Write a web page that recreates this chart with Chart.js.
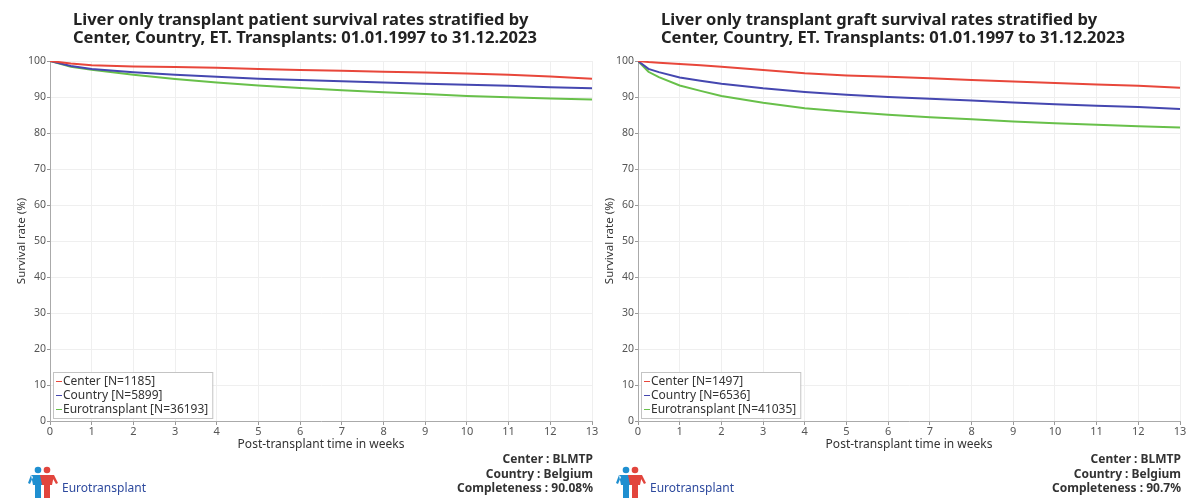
<!DOCTYPE html>
<html>
<head>
<meta charset="utf-8">
<script src="https://cdn.jsdelivr.net/npm/chart.js@4"></script>
<style>
  body { margin: 0; background: #fff; width: 1186px; height: 498px; overflow: hidden; font-family: "Noto Sans", sans-serif; }
  .panel { position: absolute; top: 0; width: 598px; height: 498px; }
  .panel canvas { position: absolute; left: 0; top: 0; }
  .title { position: absolute; left: 73px; top: 10px; font-weight: bold; font-size: 16.5px; line-height: 17.5px; color: #222; white-space: nowrap; }
  .meta { position: absolute; right: 5px; top: 452px; text-align: right; font-weight: bold; font-size: 12px; line-height: 14.5px; color: #333; white-space: nowrap; }
  .logo { position: absolute; left: 28px; top: 466px; width: 32px; height: 32px; }
  .brand { position: absolute; left: 62px; top: 479px; font-size: 12px; color: #2e4a9e; }
</style>
</head>
<body>

<div class="panel" style="left:0">
  <canvas id="patientChart" width="598" height="498"></canvas>
  <div class="title">Liver only transplant patient survival rates stratified by<br>Center, Country, ET. Transplants: 01.01.1997 to 31.12.2023</div>
  <div class="meta">Center : BLMTP<br>Country : Belgium<br>Completeness : 90.08%</div>
  <svg class="logo" viewBox="0 0 32 32"><use href="#people"/></svg>
  <div class="brand">Eurotransplant</div>
</div>

<div class="panel" style="left:588px">
  <canvas id="graftChart" width="598" height="498"></canvas>
  <div class="title">Liver only transplant graft survival rates stratified by<br>Center, Country, ET. Transplants: 01.01.1997 to 31.12.2023</div>
  <div class="meta">Center : BLMTP<br>Country : Belgium<br>Completeness : 90.7%</div>
  <svg class="logo" viewBox="0 0 32 32"><use href="#people"/></svg>
  <div class="brand">Eurotransplant</div>
</div>

<svg width="0" height="0" style="position:absolute">
  <defs>
    <g id="people">
      <g fill="#1f8fd0">
        <circle cx="10" cy="4" r="3.3"/>
        <path d="M3,9 L17,9 L15,19 L13,19 L13,32 L7,32 L7,19 L5,19 Z M3,9 L0,17 L2,18 L5,11 Z"/>
      </g>
      <g fill="#e2453d">
        <circle cx="19" cy="4" r="3.3"/>
        <path d="M12,9 L26,9 L24,19 L22,19 L22,32 L16,32 L16,19 L14,19 Z M26,9 L30,17 L28,18 L24,11 Z"/>
      </g>
    </g>
  </defs>
</svg>

<script>
// patient survival, weeks after transplant
const patientWeeks   = [0, 0.5, 1, 2, 3, 4, 5, 6, 7, 8, 9, 10, 11, 12, 13];
const patientCenter  = [100, 99.3, 98.8, 98.5, 98.3, 98.1, 97.8, 97.5, 97.3, 97.0, 96.8, 96.5, 96.2, 95.7, 95.1];
const patientCountry = [100, 98.6, 97.8, 96.9, 96.2, 95.6, 95.1, 94.7, 94.4, 94.0, 93.7, 93.4, 93.1, 92.7, 92.4];
const patientET      = [100, 98.4, 97.6, 96.2, 95.0, 94.0, 93.2, 92.5, 91.9, 91.3, 90.8, 90.3, 89.9, 89.6, 89.3];
const patientLabels  = ['Center [N=1185]', 'Country [N=5899]', 'Eurotransplant [N=36193]'];

// graft survival
const graftWeeks   = [0, 0.25, 0.5, 1, 1.5, 2, 3, 4, 5, 6, 7, 8, 9, 10, 11, 12, 13];
const graftCenter  = [100, 99.7, 99.5, 99.2, 98.8, 98.4, 97.5, 96.6, 96.0, 95.6, 95.2, 94.7, 94.3, 93.9, 93.5, 93.1, 92.6];
const graftCountry = [100, 97.8, 96.9, 95.4, 94.5, 93.7, 92.4, 91.4, 90.6, 90.0, 89.5, 89.0, 88.5, 88.0, 87.6, 87.2, 86.7];
const graftET      = [100, 97.0, 95.5, 93.2, 91.7, 90.3, 88.4, 86.9, 85.9, 85.1, 84.4, 83.8, 83.2, 82.7, 82.3, 81.9, 81.5];
const graftLabels  = ['Center [N=1497]', 'Country [N=6536]', 'Eurotransplant [N=41035]'];

const yTicks = [0, 10, 20, 30, 40, 50, 60, 70, 80, 90, 100];
const seriesColors = ['#e8473b', '#4547b0', '#68c04a'];

const FONT = '"Noto Sans", sans-serif';

// small boxed legend in the lower-left corner of the plot
const insetLegend = {
    id: 'insetLegend',
    afterDatasetsDraw(chart) {
        const { ctx, chartArea } = chart;
        const sets = chart.data.datasets;
        ctx.save();
        ctx.font = '12px ' + FONT;
        const lineH = 14;
        const w = Math.max(...sets.map(d => ctx.measureText(d.label).width)) + 14;
        const h = sets.length * lineH + 4;
        const x = chartArea.left + 3;
        const y = chartArea.bottom - 3 - h;
        ctx.fillStyle = '#fff';
        ctx.fillRect(x, y, w, h);
        ctx.strokeStyle = '#c4c4c4';
        ctx.lineWidth = 1;
        ctx.strokeRect(Math.round(x) + 0.5, Math.round(y) + 0.5, w, h);
        ctx.textBaseline = 'middle';
        sets.forEach((d, i) => {
            const cy = Math.round(y + 2 + lineH * i + lineH / 2) + 0.5;
            ctx.strokeStyle = d.borderColor;
            ctx.beginPath();
            ctx.moveTo(x + 3, cy);
            ctx.lineTo(x + 9, cy);
            ctx.stroke();
            ctx.fillStyle = '#333';
            ctx.fillText(d.label, x + 10, cy);
        });
        ctx.restore();
    }
};

function toPoints(weeks, values) {
    return weeks.map((w, i) => ({ x: w, y: values[i] }));
}

function makeChart(canvasId, weeks, series, labels) {
    const ctx = document.getElementById(canvasId);
    return new Chart(ctx, {
        type: 'line',
        data: {
            datasets: series.map((values, i) => ({
                label: labels[i],
                data: toPoints(weeks, values),
                borderColor: seriesColors[i],
                backgroundColor: seriesColors[i],
                borderWidth: 2,
                pointRadius: 0,
                tension: 0,
                fill: false
            }))
        },
        options: {
            responsive: false,
            animation: false,
            // right padding leaves room for the "13" tick label
            layout: { padding: { top: 61, right: 6, bottom: 46, left: 0 } },
            plugins: {
                legend: { display: false },
                tooltip: { enabled: false }
            },
            scales: {
                x: {
                    type: 'linear',
                    min: 0,
                    max: 13,
                    ticks: { stepSize: 1, color: '#555', font: { family: FONT, size: 11 }, padding: 0, maxRotation: 0 },
                    grid: { color: '#efefef', tickColor: '#999', tickLength: 4 },
                    border: { color: '#aaa' },
                    title: {
                        display: true,
                        text: 'Post-transplant time in weeks',
                        color: '#333',
                        font: { family: FONT, size: 12 },
                        padding: { top: 0, bottom: 0 }
                    },
                    afterFit(scale) {
                        scale.height = 31;
                        scale.paddingLeft = 0;
                        scale.paddingRight = 0;
                    }
                },
                y: {
                    min: 0,
                    max: 100,
                    afterBuildTicks(scale) {
                        scale.ticks = yTicks.map(v => ({ value: v }));
                    },
                    ticks: { color: '#555', font: { family: FONT, size: 10.5 }, padding: 1 },
                    grid: { color: '#efefef', tickColor: '#999', tickLength: 3 },
                    border: { color: '#aaa' },
                    title: {
                        display: true,
                        text: 'Survival rate (%)',
                        color: '#333',
                        font: { family: FONT, size: 11.5 },
                        padding: { top: 15, bottom: 0 }
                    },
                    afterFit(scale) {
                        scale.width = 50;
                        scale.paddingTop = 0;
                        scale.paddingBottom = 0;
                    }
                }
            }
        },
        plugins: [insetLegend]
    });
}

makeChart('patientChart', patientWeeks, [patientCenter, patientCountry, patientET], patientLabels);
makeChart('graftChart', graftWeeks, [graftCenter, graftCountry, graftET], graftLabels);
</script>
</body>
</html>
